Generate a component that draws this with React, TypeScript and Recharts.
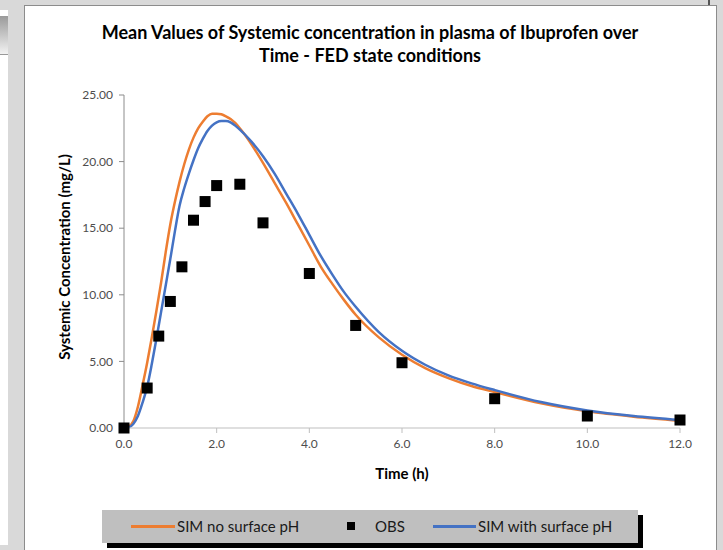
import React from "react";
import {
  ComposedChart,
  Line,
  Scatter,
  XAxis,
  YAxis,
} from "recharts";

// simulated curves share one time grid (h)
const simTimes = [
  0, 0.1, 0.2, 0.3, 0.4, 0.5, 0.6, 0.7, 0.8, 0.9, 1.0, 1.1, 1.2, 1.3, 1.4, 1.5,
  1.6, 1.7, 1.8, 1.9, 2.0, 2.1, 2.2, 2.3, 2.4, 2.5, 2.75, 3.0, 3.25, 3.5, 3.75,
  4.0, 4.25, 4.5, 4.75, 5.0, 5.5, 6.0, 6.5, 7.0, 7.5, 8.0, 9.0, 10.0, 11.0, 12.0,
];

const simNoSurfacePH = [
  0, 0.1, 0.5, 1.6, 3.2, 4.9, 6.8, 8.8, 10.9, 13.2, 15.3, 17.0, 18.5, 19.8, 20.9,
  21.8, 22.5, 23.0, 23.4, 23.6, 23.6, 23.55, 23.4, 23.2, 22.9, 22.5, 21.3, 19.9,
  18.4, 16.9, 15.3, 13.7, 12.1, 10.8, 9.6, 8.5, 6.8, 5.5, 4.5, 3.75, 3.15, 2.7,
  1.85, 1.25, 0.85, 0.55,
];

const simWithSurfacePH = [
  0, 0.05, 0.3, 0.9, 1.9, 3.1, 4.8, 6.7, 8.7, 10.7, 12.7, 14.8, 16.7, 18.0, 19.1,
  20.1, 21.0, 21.7, 22.3, 22.7, 22.95, 23.05, 23.05, 22.95, 22.7, 22.4, 21.5,
  20.4, 19.1, 17.6, 16.1, 14.5, 12.9, 11.5, 10.2, 9.1, 7.2, 5.8, 4.75, 3.95, 3.35,
  2.85, 1.95, 1.32, 0.9, 0.6,
];

const obsTimes = [0, 0.5, 0.75, 1, 1.25, 1.5, 1.75, 2, 2.5, 3, 4, 5, 6, 8, 10, 12];
const obsConc = [
  0, 3.0, 6.9, 9.5, 12.1, 15.6, 17.0, 18.2, 18.3, 15.4, 11.6, 7.7, 4.9, 2.2, 0.9, 0.6,
];

const xTicks = [0, 2, 4, 6, 8, 10, 12];
const yTicks = [0, 5, 10, 15, 20, 25];

const ORANGE = "#ED7D31";
const BLUE = "#4472C4";
const FONT = "Lato, 'Open Sans', sans-serif";

const simRows = simTimes.map((t, i) => ({
  t,
  noPH: simNoSurfacePH[i],
  withPH: simWithSurfacePH[i],
}));

const obsRows = obsTimes.map((t, i) => ({ t, c: obsConc[i] }));

const SquareDot = (props: any) => {
  const { cx, cy } = props;
  if (cx == null || cy == null) return null;
  return <rect x={cx - 5.5} y={cy - 5.5} width={11} height={11} fill="#000" />;
};

const tickStyle = { fill: "#4d4d4d", fontSize: 12, fontFamily: FONT };

export default function App() {
  return (
    <div
      style={{
        position: "absolute",
        left: 0,
        top: 0,
        width: 723,
        height: 550,
        background: "#d9d9d9",
        overflow: "hidden",
        fontFamily: FONT,
      }}
    >
      {/* window chrome bits */}
      <div style={{ position: "absolute", left: 0, top: 10, width: 8, height: 535, background: "#fff" }} />
      <div
        style={{
          position: "absolute",
          left: 0,
          top: 16,
          width: 8,
          height: 38,
          background: "linear-gradient(#9a9a9a, #f2f2f2)",
          borderBottom: "1px solid #999",
        }}
      />
      <div style={{ position: "absolute", left: 708, top: 0, width: 2, height: 5, background: "#555" }} />

      {/* chart panel */}
      <div
        style={{
          position: "absolute",
          left: 24,
          top: 5,
          width: 691,
          height: 560,
          background: "#fff",
          border: "1px solid #8c8c8c",
        }}
      />

      <div
        style={{
          position: "absolute",
          left: 60,
          top: 21,
          width: 620,
          textAlign: "center",
          fontWeight: 700,
          fontSize: 18,
          lineHeight: "23px",
          color: "#000",
        }}
      >
        Mean Values of Systemic concentration in plasma of Ibuprofen over
        <br />
        Time - FED state conditions
      </div>

      <div style={{ position: "absolute", left: 0, top: 0 }}>
        <ComposedChart
          width={723}
          height={550}
          data={simRows}
          margin={{ top: 95, right: 43, bottom: 92, left: 24 }}
        >
          <XAxis
            dataKey="t"
            type="number"
            domain={[0, 12]}
            ticks={xTicks}
            tickFormatter={(v: number) => v.toFixed(1)}
            tick={tickStyle}
            tickSize={5}
            tickMargin={6}
            height={30}
            stroke="#bfbfbf"
            interval={0}
          />
          <YAxis
            type="number"
            domain={[0, 25]}
            ticks={yTicks}
            tickFormatter={(v: number) => v.toFixed(2)}
            tick={tickStyle}
            tickSize={5}
            tickMargin={6}
            width={100}
            stroke="#8c8c8c"
            interval={0}
          />
          <Line
            dataKey="noPH"
            type="monotone"
            stroke={ORANGE}
            strokeWidth={2.5}
            dot={false}
            isAnimationActive={false}
          />
          <Line
            dataKey="withPH"
            type="monotone"
            stroke={BLUE}
            strokeWidth={2.5}
            dot={false}
            isAnimationActive={false}
          />
          <Scatter
            data={obsRows}
            dataKey="c"
            fill="#000"
            shape={SquareDot}
            isAnimationActive={false}
          />
        </ComposedChart>
      </div>

      {/* axis titles */}
      <div
        style={{
          position: "absolute",
          left: 64,
          top: 257,
          transform: "translate(-50%, -50%) rotate(-90deg)",
          whiteSpace: "nowrap",
          fontWeight: 700,
          fontSize: 15,
          color: "#000",
        }}
      >
        Systemic Concentration (mg/L)
      </div>
      <div
        style={{
          position: "absolute",
          left: 402,
          top: 473,
          transform: "translate(-50%, -50%)",
          whiteSpace: "nowrap",
          fontWeight: 700,
          fontSize: 15,
          color: "#000",
        }}
      >
        Time (h)
      </div>

      {/* legend */}
      <div
        style={{
          position: "absolute",
          left: 102,
          top: 510,
          width: 536,
          height: 33,
          background: "#bfbfbf",
          boxShadow: "5px 5px 0 #000",
          fontSize: 15,
          color: "#1a1a1a",
        }}
      >
        <div style={{ position: "absolute", left: 29, top: 15, width: 44, height: 3, background: ORANGE }} />
        <div style={{ position: "absolute", left: 75, top: 7, lineHeight: "18px" }}>SIM no surface pH</div>
        <div style={{ position: "absolute", left: 245, top: 12, width: 8, height: 8, background: "#000" }} />
        <div style={{ position: "absolute", left: 273, top: 7, lineHeight: "18px" }}>OBS</div>
        <div style={{ position: "absolute", left: 331, top: 15, width: 43, height: 3, background: BLUE }} />
        <div style={{ position: "absolute", left: 376, top: 7, lineHeight: "18px" }}>SIM with surface pH</div>
      </div>
    </div>
  );
}
